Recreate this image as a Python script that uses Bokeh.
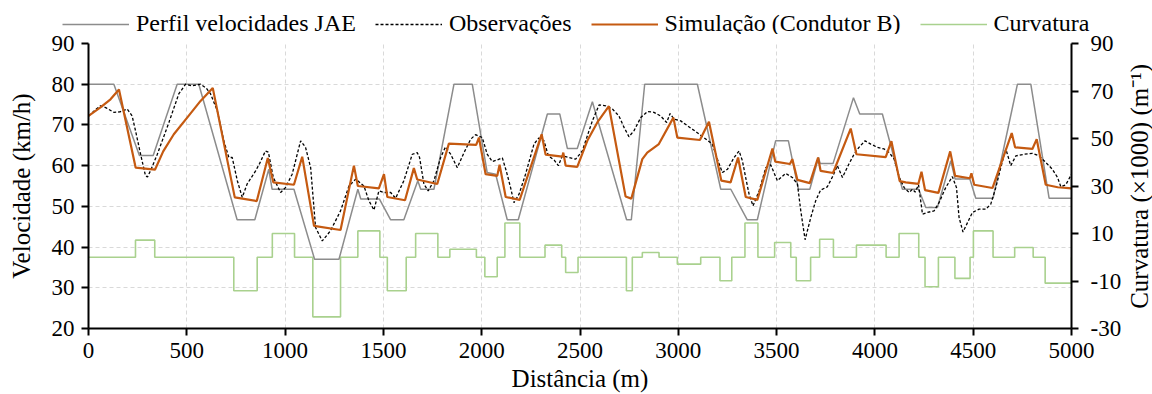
import math
from bokeh.plotting import figure
from bokeh.layouts import column, row
from bokeh.core.properties import value
from bokeh.models import Range1d, LinearAxis, FixedTicker, Legend, LegendItem
from bokeh.embed import file_html
from bokeh.resources import INLINE

# ---------------- data ----------------
dist_jae = [0, 129, 259, 329, 451, 561, 756, 846, 917, 934, 1045, 1150, 1274, 1370, 1385, 1480,
            1537, 1604, 1675, 1690, 1757, 1859, 1952, 2028, 2071, 2130, 2186, 2334, 2397, 2436,
            2486, 2563, 2737, 2761, 2829, 3097, 3216, 3267, 3351, 3402, 3495, 3560, 3611, 3669,
            3713, 3722, 3787, 3891, 3923, 4038, 4140, 4222, 4259, 4318, 4386, 4408, 4483, 4513,
            4601, 4725, 4793, 4886, 5000]
vel_jae = [80, 80, 62.5, 62.5, 80, 80, 46.7, 46.7, 59.1, 54.2, 54.2, 37, 37, 54.2, 51.8, 51.8,
           46.7, 46.7, 56.3, 54.2, 54.2, 80, 80, 58.3, 57.9, 46.7, 46.7, 72.7, 72.7, 64.2,
           64.2, 75.7, 46.7, 46.7, 80, 80, 54.2, 54.2, 46.7, 46.7, 66.1, 66.1, 54.2, 54.2,
           62.0, 60.5, 60.5, 76.7, 72.7, 72.7, 54.2, 54.2, 49.7, 49.7, 61.2, 56.7, 56.7, 52.0,
           52.0, 80, 80, 52, 52]

dist_obs = [0, 30, 61, 90, 129, 160, 197, 222, 239, 265, 290, 300, 315, 350, 409, 459, 494, 528,
            570, 600, 621, 655, 688, 714, 731, 757, 782, 807, 850, 870, 900, 915, 940, 977, 1002,
            1036, 1079, 1104, 1130, 1155, 1189, 1231, 1282, 1325, 1359, 1401, 1426, 1452, 1477,
            1503, 1537, 1562, 1604, 1647, 1672, 1684, 1706, 1728, 1757, 1791, 1816, 1842, 1876,
            1910, 1944, 1969, 2003, 2028, 2054, 2079, 2105, 2125, 2147, 2164, 2190, 2223, 2266,
            2291, 2317, 2339, 2368, 2390, 2410, 2444, 2478, 2512, 2529, 2563, 2597, 2631, 2665,
            2698, 2724, 2749, 2775, 2809, 2843, 2876, 2910, 2941, 2958, 2978, 3012, 3046, 3088,
            3130, 3173, 3199, 3224, 3250, 3284, 3309, 3326, 3343, 3360, 3380, 3411, 3445, 3470,
            3504, 3546, 3580, 3606, 3623, 3645, 3674, 3699, 3724, 3758, 3787, 3809, 3835, 3868,
            3894, 3919, 3950, 3979, 4013, 4047, 4073, 4098, 4124, 4149, 4174, 4191, 4205, 4222,
            4242, 4267, 4301, 4326, 4360, 4394, 4415, 4428, 4448, 4471, 4496, 4530, 4564, 4589,
            4615, 4640, 4666, 4691, 4717, 4759, 4801, 4835, 4869, 4903, 4929, 4946, 4971, 5000]
vel_obs = [72.2, 73.5, 74.7, 74.2, 73.1, 73.2, 73.9, 72.2, 68.6, 62.8, 57.5, 57.2, 58.7, 62.8,
           70.6, 77.6, 80.0, 79.6, 80.0, 79.0, 77.6, 73.5, 66.1, 62.0, 62.0, 56.3, 52.2, 55.5,
           58.7, 60.5, 63.6, 63.3, 57.1, 53.4, 54.6, 57.9, 66.1, 64.5, 59.5, 44.8, 41.5, 44.0,
           48.9, 55.0, 56.7, 55.0, 51.4, 49.1, 53.8, 53.4, 53.4, 52.0, 56.3, 62.8, 63.2, 62.0,
           55.5, 53.8, 56.3, 62.0, 64.6, 62.8, 59.5, 63.2, 66.5, 67.6, 66.9, 62.8, 61.0, 61.4,
           61.9, 58.7, 54.6, 50.9, 53.0, 57.9, 65.3, 66.8, 66.1, 62.4, 61.4, 60.0, 62.4, 62.0,
           61.6, 63.6, 66.1, 71.0, 74.9, 74.7, 73.9, 72.2, 69.4, 67.1, 68.6, 71.8, 73.3, 73.1,
           72.2, 70.6, 72.8, 71.4, 71.0, 69.8, 68.4, 66.9, 65.3, 61.6, 58.3, 59.1, 62.0, 63.6,
           61.2, 57.0, 53.0, 50.1, 53.8, 59.5, 60.2, 56.3, 58.1, 57.1, 55.5, 48.9, 41.8, 47.3,
           51.4, 54.0, 54.8, 57.5, 60.0, 57.1, 60.4, 62.8, 64.5, 66.1, 65.3, 64.5, 64.1, 63.2,
           61.6, 57.1, 54.6, 53.4, 54.2, 53.5, 55.3, 48.1, 48.5, 48.9, 50.9, 54.6, 57.3, 54.6,
           47.3, 43.7, 46.0, 48.5, 49.3, 49.3, 50.5, 54.6, 59.5, 64.1, 60.0, 62.4, 62.8, 63.0,
           62.4, 60.8, 59.1, 57.1, 54.8, 55.3, 57.9]

dist_sim = [0, 61, 112, 155, 240, 338, 380, 434, 502, 570, 632, 744, 856, 912, 940, 1045, 1087,
            1147, 1282, 1350, 1370, 1477, 1503, 1520, 1610, 1655, 1672, 1774, 1833, 1972, 1986,
            2020, 2079, 2091, 2122, 2193, 2305, 2325, 2410, 2415, 2427, 2486, 2537, 2588, 2647,
            2732, 2761, 2817, 2842, 2901, 2975, 2995, 3110, 3156, 3219, 3266, 3304, 3343, 3402,
            3479, 3493, 3568, 3580, 3606, 3669, 3711, 3724, 3787, 3877, 3906, 4055, 4084, 4126,
            4157, 4221, 4237, 4255, 4323, 4383, 4408, 4483, 4491, 4505, 4598, 4696, 4713, 4801,
            4823, 4869, 4930, 5000]
vel_sim = [72.2, 74.3, 76.3, 78.7, 59.5, 59.0, 63.5, 67.7, 71.8, 75.9, 79.1, 52.2, 51.3, 61.9,
           55.9, 55.3, 62.2, 45.2, 44.2, 60.0, 55.0, 54.4, 57.9, 52.3, 51.5, 59.4, 56.6, 55.5,
           65.4, 65.1, 66.9, 57.9, 57.5, 60.2, 52.3, 51.6, 67.7, 62.7, 62.2, 63.2, 60.0, 59.7,
           66.1, 70.6, 74.6, 52.4, 51.9, 61.6, 63.2, 65.3, 71.8, 66.9, 66.3, 70.8, 56.3, 55.9,
           62.0, 52.3, 51.6, 64.2, 61.0, 60.4, 61.6, 56.5, 55.7, 62.0, 58.7, 58.2, 69.1, 62.8,
           62.1, 66.0, 56.2, 55.9, 55.5, 58.5, 54.0, 53.3, 63.5, 57.5, 56.9, 58.1, 55.3, 54.5,
           68.0, 64.5, 64.1, 66.5, 55.3, 54.7, 54.4]

curv_start = [239, 739, 935, 1141, 1370, 1520, 1664, 1838, 2016, 2118, 2322, 2427, 2736, 2817,
              2995, 3212, 3339, 3490, 3600, 3719, 3906, 4123, 4255, 4407, 4501, 4711, 4866]
curv_end = [337, 858, 1048, 1282, 1482, 1616, 1777, 1973, 2079, 2194, 2407, 2490, 2766, 2902,
            3114, 3272, 3405, 3572, 3673, 3789, 4057, 4223, 4323, 4484, 4601, 4805, 5000]
curv_value = [7.2, -14.1, 10.0, -25.1, 11.1, -14.1, 10.0, 3.4, -8.2, 14.4, 5.1, -6.4, -14.1, 2.0,
              -2.9, -9.9, 14.4, 6.2, -9.9, 7.6, 5.1, 10.0, -12.4, -8.9, 11.1, 4.1, -10.9]

x_ticks = [0, 500, 1000, 1500, 2000, 2500, 3000, 3500, 4000, 4500, 5000]
y_ticks = [20, 30, 40, 50, 60, 70, 80, 90]
y2_ticks = [-30, -10, 10, 30, 50, 70, 90]

series_labels = ["Perfil velocidades JAE", "Observações", "Simulação (Condutor B)", "Curvatura"]
right_axis_title = "Curvatura (×1000) (m⁻¹)"

# step line for curvature built from the segments
curv_x = [0]
curv_y = [0]
for s, e, v in zip(curv_start, curv_end, curv_value):
    curv_x += [s, s, e, e]
    curv_y += [0, v, v, 0]
curv_x.append(5000)
curv_y.append(0)

FONT = "Liberation Serif"
STY_JAE = dict(line_color="#8c8c8c", line_width=1.5)
STY_OBS = dict(line_color="black", line_width=1.3, line_dash="3 2")
STY_SIM = dict(line_color="#c55a11", line_width=2.2)
STY_CURV = dict(line_color="#a9d18e", line_width=1.6)

# ---------------- main chart ----------------
p = figure(frame_width=983, frame_height=285, x_range=Range1d(0, 5000), y_range=Range1d(20, 90),
           output_backend="svg", toolbar_location=None,
           min_border_left=88, min_border_right=52, min_border_top=9, min_border_bottom=66)
p.extra_y_ranges = {"curv": Range1d(-30, 90)}
p.outline_line_color = None
p.background_fill_color = "white"
p.border_fill_color = "white"

for g in (p.xgrid, p.ygrid):
    g.grid_line_color = "#d9d9d9"
    g.grid_line_dash = "4 3"
    g.grid_line_width = 1
p.xgrid.ticker = FixedTicker(ticks=x_ticks)
p.ygrid.ticker = FixedTicker(ticks=y_ticks)

p.xaxis.ticker = FixedTicker(ticks=x_ticks)
p.yaxis.ticker = FixedTicker(ticks=y_ticks)
p.xaxis.axis_label = "Distância (m)"
p.yaxis.axis_label = "Velocidade (km/h)"

ax2 = LinearAxis(y_range_name="curv", ticker=FixedTicker(ticks=y2_ticks))
ax2.major_label_overrides = {t: str(t) for t in y2_ticks}
p.add_layout(ax2, "right")

for ax in (p.xaxis[0], p.yaxis[0], ax2):
    ax.axis_line_color = "black"
    ax.axis_line_width = 2
    ax.major_tick_line_color = "black"
    ax.major_tick_line_width = 2
    ax.major_tick_out = 7
    ax.major_tick_in = 0
    ax.minor_tick_line_color = None
    ax.major_label_text_font = FONT
    ax.major_label_text_font_size = "23px"
    ax.major_label_text_color = "black"
    ax.major_label_standoff = 7
    ax.axis_label_text_font = FONT
    ax.axis_label_text_font_size = "25px"
    ax.axis_label_text_font_style = "normal"
    ax.axis_label_text_color = "black"
    ax.axis_label_standoff = 4
p.yaxis[0].axis_label_standoff = 14
ax2.major_label_standoff = 12

p.line(curv_x, curv_y, y_range_name="curv", **STY_CURV)
p.line(dist_jae, vel_jae, **STY_JAE)
p.line(dist_obs, vel_obs, **STY_OBS)
p.line(dist_sim, vel_sim, **STY_SIM)

# ---------------- secondary-axis title strip (reads bottom-to-top) ----------------
rf = figure(width=29, height=360, x_range=Range1d(0, 1), y_range=Range1d(0, 1),
            output_backend="svg", toolbar_location=None,
            x_axis_location=None, y_axis_location=None,
            min_border_left=0, min_border_right=0, min_border_top=0, min_border_bottom=0)
rf.grid.visible = False
rf.outline_line_color = None
rf.background_fill_color = "white"
rf.border_fill_color = "white"
rf.text(x=[0.5], y=[0.578], text=[right_axis_title], angle=math.pi / 2,
        text_align="center", text_baseline="middle", text_color="black",
        text_font=value(FONT), text_font_size=value("25px"))

# ---------------- legend strip on top ----------------
lf = figure(width=1152, height=34, x_range=Range1d(0, 1), y_range=Range1d(0, 1),
            output_backend="svg", toolbar_location=None,
            x_axis_location=None, y_axis_location=None,
            min_border_left=0, min_border_right=0, min_border_top=0, min_border_bottom=0)
lf.grid.visible = False
lf.outline_line_color = None
lf.background_fill_color = "white"
lf.border_fill_color = "white"
# swatch renderers hold points outside the visible range; only their legend glyphs show
lr = [lf.line([5, 6], [5, 6], **sty) for sty in (STY_JAE, STY_OBS, STY_SIM, STY_CURV)]
legend = Legend(items=[LegendItem(label=lab, renderers=[r]) for lab, r in zip(series_labels, lr)],
                orientation="horizontal", location=(62, -3),
                border_line_color=None, background_fill_alpha=0,
                label_text_font=FONT, label_text_font_size="24px", label_text_color="black",
                glyph_width=67, glyph_height=20, label_standoff=7, spacing=19, padding=0, margin=0)
lf.add_layout(legend, "center")

layout = column(row(lf), row(p, column(rf), spacing=0), spacing=0)
open("out.html", "w").write(file_html(layout, INLINE))
